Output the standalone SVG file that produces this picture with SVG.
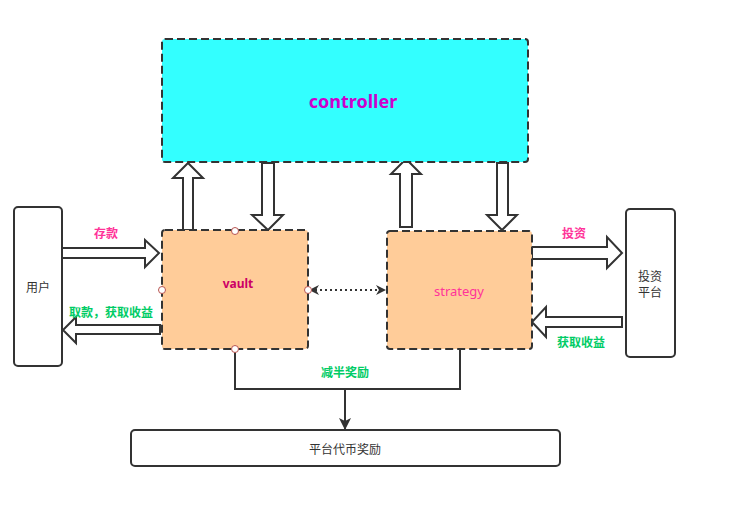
<svg xmlns="http://www.w3.org/2000/svg" width="730" height="509" viewBox="0 0 730 509">
<style>
.dash{stroke:#333;stroke-width:2;stroke-dasharray:8 4}
.box{fill:#fff;stroke:#333;stroke-width:2}
.fat{fill:#fff;stroke:#333;stroke-width:2;stroke-linejoin:miter}
.pt{fill:#fff;stroke:#B85450;stroke-width:1}
.t{font-family:"Noto Sans","Noto Sans CJK SC",sans-serif;text-anchor:middle;dominant-baseline:central}
.lbl{font-size:12px;font-weight:bold}
.pink{fill:#FF3399}
.green{fill:#00CC66}
.plain{font-size:12px;fill:#333}
</style>
<defs>
<marker id="ah" viewBox="0 0 10 10" refX="9" refY="5" markerWidth="10" markerHeight="10" markerUnits="userSpaceOnUse" orient="auto-start-reverse">
<path d="M0,0 L10,5 L0,10 L3,5 Z" fill="#333"/>
</marker>
<marker id="ah2" viewBox="0 0 12 12" refX="11" refY="6" markerWidth="12" markerHeight="12" markerUnits="userSpaceOnUse" orient="auto">
<path d="M0,0 L12,6 L0,12 L3,6 Z" fill="#333"/>
</marker>
</defs>
<g id="connectors">
<path class="fat" d="M183,230 V178 H173 L188,163 L203,178 H193 V230 Z"/>
<path class="fat" d="M262,163 V215 H252 L268,230 L283,215 H274 V163 Z"/>
<path class="fat" d="M400,227 V174 H391 L406,159 L421,174 H412 V227 Z"/>
<path class="fat" d="M497,163 V215 H487 L502,230 L517,215 H508 V163 Z"/>
<path class="fat" d="M532,247 H607 V237 L622,253 L607,268 V259 H532 Z"/>
<path class="fat" d="M622,317 H546 V307 L532,322 L546,337 V327 H622 Z"/>
<path class="fat" d="M62,248 H145 V240 L159,253 L145,267 V258 H62 Z"/>
<path class="fat" d="M160,325 H76 V317 L63,330 L76,343 V334 H160 Z"/>
<line x1="310" y1="290" x2="385" y2="290" stroke="#333" stroke-width="2" stroke-dasharray="2 3" marker-start="url(#ah)" marker-end="url(#ah)"/>
<path d="M235,349 V389 H460 V349" fill="none" stroke="#333" stroke-width="2"/>
<line x1="345" y1="389" x2="345" y2="429" stroke="#333" stroke-width="2" marker-end="url(#ah2)"/>
</g>
<g id="controller">
<rect x="162" y="39" width="366" height="123" rx="3" fill="#33FFFF" class="dash"/>
<text class="t" x="353" y="101" font-size="18" font-weight="bold" fill="#CC00CC">controller</text>
</g>
<g id="vault">
<rect x="162" y="230" width="146" height="119" rx="3" fill="#FFCC99" class="dash"/>
<text class="t" x="238" y="283" font-size="12" font-weight="bold" fill="#CC0066">vault</text>
<circle class="pt" cx="235" cy="231" r="3.5"/>
<circle class="pt" cx="162" cy="290" r="3.5"/>
<circle class="pt" cx="308" cy="290" r="3.5"/>
<circle class="pt" cx="235" cy="349" r="3.5"/>
</g>
<g id="strategy">
<rect x="387" y="231" width="145" height="118" rx="3" fill="#FFCC99" class="dash"/>
<text class="t" x="459" y="291" font-size="13" fill="#FF3399">strategy</text>
</g>
<g id="user">
<rect x="14" y="207" width="48" height="159" rx="4" class="box"/>
<text class="t plain" x="38" y="287">用户</text>
</g>
<g id="platform">
<rect x="626" y="209" width="49" height="148" rx="4" class="box"/>
<text class="t plain" x="650" y="276">投资</text>
<text class="t plain" x="650" y="292">平台</text>
</g>
<g id="reward">
<rect x="131" y="430" width="429" height="36" rx="4" class="box"/>
<text class="t plain" x="345" y="449">平台代币奖励</text>
</g>
<g id="labels">
<text class="t lbl pink" x="106" y="233">存款</text>
<text class="t lbl green" x="111" y="312">取款，获取收益</text>
<text class="t lbl pink" x="574" y="233">投资</text>
<text class="t lbl green" x="581" y="342">获取收益</text>
<text class="t lbl green" x="345" y="372">减半奖励</text>
</g>
</svg>
